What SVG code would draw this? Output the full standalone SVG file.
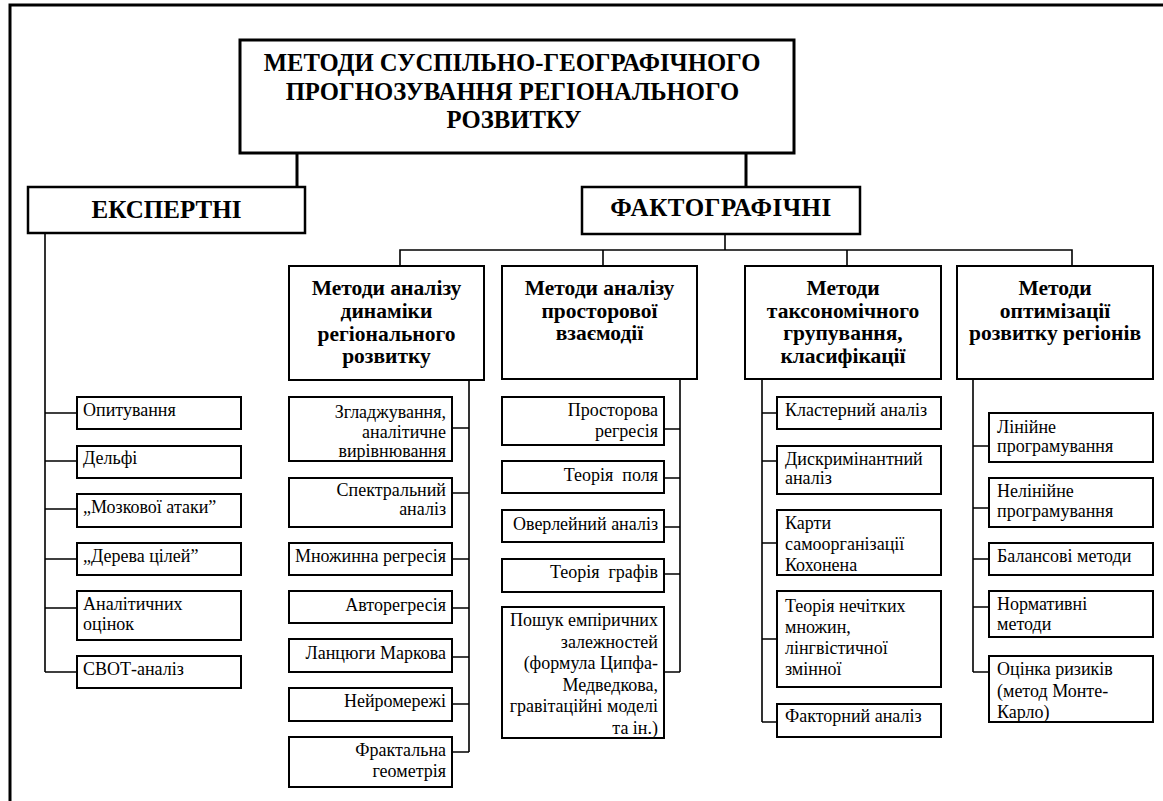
<svg xmlns="http://www.w3.org/2000/svg" width="1163" height="801" viewBox="0 0 1163 801" font-family="'Liberation Serif', Tinos, 'Times New Roman', serif">
<style>
.frame{fill:none;stroke:#000;stroke-width:3}
.big{fill:#fff;stroke:#000;stroke-width:3}
.cat{fill:#fff;stroke:#000;stroke-width:2}
.item{fill:#fff;stroke:#000;stroke-width:2}
.ln{fill:none;stroke:#000;stroke-width:1.6}
.lnb{fill:none;stroke:#000;stroke-width:3}
text{font-family:'Liberation Serif', Tinos, 'Times New Roman', serif;fill:#000}
.tt{font-size:24.7px;font-weight:bold;text-anchor:middle}
.st{font-size:25px;font-weight:bold;text-anchor:middle}
.ct{font-size:21.5px;font-weight:bold;text-anchor:middle}
.it{font-size:18px}
.r{text-anchor:end}
</style>
<rect width="1163" height="801" fill="#fff"/>
<path class="frame" d="M10,801 V5 H1163"/>

<g id="connectors">
<path class="lnb" d="M297,153 V187 M746,153 V187"/>
<path class="ln" d="M725,234 V250 M400,266 V250 H1072 V266 M603,250 V266 M847,250 V266"/>
<path class="ln" d="M45,233 V672 M45,413 H77 M45,461 H77 M45,509 H77 M45,559 H77 M45,608 H77 M45,672 H77"/>
<path class="ln" d="M469,380 V752 M452,428 H469 M452,493 H469 M452,559 H469 M452,608 H469 M452,657 H469 M452,704 H469 M452,752 H469"/>
<path class="ln" d="M680,379 V672 M664,429 H680 M664,478 H680 M664,527 H680 M664,574 H680 M664,672 H680"/>
<path class="ln" d="M762,379 V722 M762,413 H777 M762,461 H777 M762,543 H777 M762,639 H777 M762,722 H777"/>
<path class="ln" d="M973,379 V672 M973,446 H989 M973,508 H989 M973,559 H989 M973,607 H989 M973,672 H989"/>
</g>

<g id="title">
<rect class="big" x="240" y="40" width="554" height="113"/>
<text class="tt"><tspan x="512" y="71">МЕТОДИ СУСПІЛЬНО-ГЕОГРАФІЧНОГО</tspan><tspan x="512.5" y="99.5">ПРОГНОЗУВАННЯ РЕГІОНАЛЬНОГО</tspan><tspan x="514" y="128">РОЗВИТКУ</tspan></text>
</g>

<g id="expert">
<rect class="big" x="28" y="187" width="277" height="46" style="stroke-width:2.5"/>
<text class="st" x="166.5" y="218">ЕКСПЕРТНІ</text>
</g>
<g id="factographic">
<rect class="big" x="582" y="187" width="278" height="47" style="stroke-width:2.5"/>
<text class="st" x="721" y="216" letter-spacing="0.5">ФАКТОГРАФІЧНІ</text>
</g>

<g id="cat-dynamics">
<rect class="cat" x="289" y="266" width="195" height="114"/>
<text class="ct"><tspan x="386.5" y="295">Методи аналізу</tspan><tspan x="386.5" y="318">динаміки</tspan><tspan x="386.5" y="340.5">регіонального</tspan><tspan x="386.5" y="363">розвитку</tspan></text>
</g>
<g id="cat-spatial">
<rect class="cat" x="502" y="266" width="195" height="113"/>
<text class="ct"><tspan x="599.5" y="295">Методи аналізу</tspan><tspan x="599.5" y="317.5">просторової</tspan><tspan x="599.5" y="340">взаємодії</tspan></text>
</g>
<g id="cat-taxonomy">
<rect class="cat" x="745" y="266" width="196" height="113"/>
<text class="ct"><tspan x="843" y="295">Методи</tspan><tspan x="843" y="317.5">таксономічного</tspan><tspan x="843" y="340">групування,</tspan><tspan x="843" y="362.5">класифікації</tspan></text>
</g>
<g id="cat-optimization">
<rect class="cat" x="957" y="266" width="196" height="113"/>
<text class="ct"><tspan x="1055" y="295">Методи</tspan><tspan x="1055" y="317.5">оптимізації</tspan><tspan x="1055" y="340">розвитку регіонів</tspan></text>
</g>

<g id="e1"><rect class="item" x="77" y="397" width="164" height="32"/><text class="it" x="83" y="416">Опитування</text></g>
<g id="e2"><rect class="item" x="77" y="446" width="164" height="32"/><text class="it" x="83" y="464">Дельфі</text></g>
<g id="e3"><rect class="item" x="77" y="494" width="164" height="33"/><text class="it" x="83" y="513">„Мозкової атаки”</text></g>
<g id="e4"><rect class="item" x="77" y="543" width="164" height="32"/><text class="it" x="83" y="562">„Дерева цілей”</text></g>
<g id="e5"><rect class="item" x="77" y="591" width="164" height="49"/><text class="it"><tspan x="83" y="610">Аналітичних</tspan><tspan x="83" y="630">оцінок</tspan></text></g>
<g id="e6"><rect class="item" x="77" y="656" width="164" height="32"/><text class="it" x="83" y="675">СВОТ-аналіз</text></g>

<g id="d1"><rect class="item" x="289" y="397" width="163" height="64"/><text class="it r"><tspan x="446" y="418">Згладжування,</tspan><tspan x="446" y="438">аналітичне</tspan><tspan x="446" y="457">вирівнювання</tspan></text></g>
<g id="d2"><rect class="item" x="289" y="478" width="163" height="49"/><text class="it r"><tspan x="446" y="496">Спектральний</tspan><tspan x="446" y="515">аналіз</tspan></text></g>
<g id="d3"><rect class="item" x="289" y="543" width="163" height="32"/><text class="it r" x="446" y="562">Множинна регресія</text></g>
<g id="d4"><rect class="item" x="289" y="591" width="163" height="32"/><text class="it r" x="446" y="611">Авторегресія</text></g>
<g id="d5"><rect class="item" x="289" y="639" width="163" height="33"/><text class="it r" x="446" y="659">Ланцюги Маркова</text></g>
<g id="d6"><rect class="item" x="289" y="688" width="163" height="33"/><text class="it r" x="446" y="707">Нейромережі</text></g>
<g id="d7"><rect class="item" x="289" y="737" width="163" height="50"/><text class="it r"><tspan x="446" y="756">Фрактальна</tspan><tspan x="446" y="777">геометрія</tspan></text></g>

<g id="s1"><rect class="item" x="502" y="397" width="162" height="48"/><text class="it r"><tspan x="658" y="416">Просторова</tspan><tspan x="658" y="437">регресія</tspan></text></g>
<g id="s2"><rect class="item" x="502" y="461" width="162" height="32"/><text class="it r" x="658" y="481">Теорія&#160; поля</text></g>
<g id="s3"><rect class="item" x="502" y="510" width="162" height="32"/><text class="it r" x="658" y="530">Оверлейний аналіз</text></g>
<g id="s4"><rect class="item" x="502" y="559" width="162" height="33"/><text class="it r" x="658" y="578">Теорія&#160; графів</text></g>
<g id="s5"><rect class="item" x="502" y="607" width="162" height="131"/><text class="it r"><tspan x="658" y="626">Пошук емпіричних</tspan><tspan x="658" y="647.5">залежностей</tspan><tspan x="658" y="669">(формула Ципфа-</tspan><tspan x="658" y="690.5">Медведкова,</tspan><tspan x="658" y="712">гравітаційні моделі</tspan><tspan x="658" y="733.5">та ін.)</tspan></text></g>

<g id="t1"><rect class="item" x="777" y="397" width="164" height="32"/><text class="it" x="785" y="416">Кластерний аналіз</text></g>
<g id="t2"><rect class="item" x="777" y="446" width="164" height="48"/><text class="it"><tspan x="785" y="465">Дискримінантний</tspan><tspan x="785" y="484">аналіз</tspan></text></g>
<g id="t3"><rect class="item" x="777" y="510" width="164" height="65"/><text class="it"><tspan x="785" y="529">Карти</tspan><tspan x="785" y="550">самоорганізації</tspan><tspan x="785" y="571">Кохонена</tspan></text></g>
<g id="t4"><rect class="item" x="777" y="591" width="164" height="96"/><text class="it"><tspan x="785" y="612">Теорія нечітких</tspan><tspan x="785" y="633">множин,</tspan><tspan x="785" y="654">лінгвістичної</tspan><tspan x="785" y="675">змінної</tspan></text></g>
<g id="t5"><rect class="item" x="777" y="704" width="164" height="33"/><text class="it" x="785" y="722">Факторний аналіз</text></g>

<g id="o1"><rect class="item" x="989" y="413" width="164" height="49"/><text class="it"><tspan x="997" y="433">Лінійне</tspan><tspan x="997" y="452">програмування</tspan></text></g>
<g id="o2"><rect class="item" x="989" y="478" width="164" height="49"/><text class="it"><tspan x="997" y="497">Нелінійне</tspan><tspan x="997" y="517">програмування</tspan></text></g>
<g id="o3"><rect class="item" x="989" y="543" width="164" height="32"/><text class="it" x="997" y="562">Балансові методи</text></g>
<g id="o4"><rect class="item" x="989" y="591" width="164" height="46"/><text class="it"><tspan x="997" y="610">Нормативні</tspan><tspan x="997" y="630">методи</tspan></text></g>
<g id="o5"><rect class="item" x="989" y="656" width="164" height="66"/><text class="it"><tspan x="997" y="675">Оцінка ризиків</tspan><tspan x="997" y="697">(метод Монте-</tspan><tspan x="997" y="718">Карло)</tspan></text></g>
</svg>
